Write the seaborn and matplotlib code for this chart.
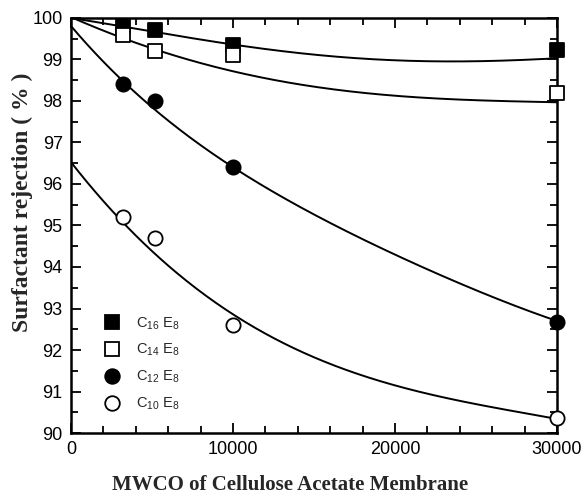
import numpy as np
import pandas as pd
import matplotlib
matplotlib.use("Agg")
import matplotlib.pyplot as plt
import seaborn as sns
from matplotlib.ticker import MultipleLocator

sns.set_theme(style="ticks")
plt.rcParams["font.family"] = ["Liberation Sans", "DejaVu Sans"]
plt.rcParams["mathtext.fontset"] = "custom"
plt.rcParams["mathtext.rm"] = "Liberation Sans"
plt.rcParams["mathtext.it"] = "Liberation Sans"

# Measured rejection for each surfactant at four membrane cut-offs
mwco = [3200, 5200, 10000, 30000]
c16e8 = [99.8, 99.7, 99.35, 99.22]
c14e8 = [99.6, 99.2, 99.12, 98.2]
c12e8 = [98.4, 98.0, 96.4, 92.68]
c10e8 = [95.2, 94.7, 92.6, 90.35]

# Trend-curve knots for each surfactant
curve_x = [0, 2500, 5000, 7500, 10000, 12500, 15000, 17500, 20000, 22500, 25000, 27500, 30000]
curve_c16 = [100.0, 99.84, 99.67, 99.51, 99.37, 99.23, 99.11, 99.03, 98.98, 98.96, 98.96, 98.98, 99.03]
curve_c14 = [100.0, 99.65, 99.29, 98.95, 98.68, 98.5, 98.36, 98.24, 98.14, 98.06, 98.0, 97.98, 97.98]
curve_c12 = [99.8, 98.75, 97.88, 97.05, 96.38, 95.82, 95.28, 94.78, 94.28, 93.85, 93.45, 93.05, 92.7]
curve_c10 = [96.5, 95.42, 94.38, 93.55, 92.8, 92.3, 91.86, 91.45, 91.14, 90.92, 90.68, 90.5, 90.35]

labels = [r"C$_{16}$ E$_8$", r"C$_{14}$ E$_8$", r"C$_{12}$ E$_8$", r"C$_{10}$ E$_8$"]
markers = ["s", "s", "o", "o"]
faces = ["black", "white", "black", "white"]


def smooth_curve(xk, yk, n=300):
    """Smooth trend line through the knots (least-squares quartic)."""
    xs = np.asarray(xk, float) / 30000.0
    coef = np.polyfit(xs, yk, 4)
    xf = np.linspace(xs.min(), xs.max(), n)
    return xf * 30000.0, np.polyval(coef, xf)


points = pd.DataFrame({
    "mwco": mwco * 4,
    "rejection": c16e8 + c14e8 + c12e8 + c10e8,
    "series": sum([[lab] * len(mwco) for lab in labels], []),
})

frames = []
for lab, yk in zip(labels, [curve_c16, curve_c14, curve_c12, curve_c10]):
    xf, yf = smooth_curve(curve_x, yk)
    frames.append(pd.DataFrame({"mwco": xf, "rejection": yf, "series": lab}))
curves = pd.concat(frames, ignore_index=True)

fig = plt.figure(figsize=(5.83, 4.98), dpi=100)
ax = fig.add_axes([0.1218, 0.1305, 0.8336, 0.8334])

for lab in labels:
    sns.lineplot(data=curves[curves.series == lab], x="mwco", y="rejection",
                 color="black", lw=1.4, ax=ax, legend=False, zorder=2)

handles = []
for lab, mk, fc in zip(labels, markers, faces):
    sub = points[points.series == lab]
    sns.scatterplot(data=sub, x="mwco", y="rejection", marker=mk, s=105,
                    facecolor=fc, edgecolor="black", linewidth=1.3,
                    ax=ax, legend=False, zorder=3, clip_on=False)
    handles.append(plt.Line2D([], [], ls="none", marker=mk, markersize=10.5,
                              markerfacecolor=fc, markeredgecolor="black",
                              markeredgewidth=1.3, label=lab))

ax.set_xlim(0, 30000)
ax.set_ylim(90, 100)
ax.xaxis.set_major_locator(MultipleLocator(10000))
ax.xaxis.set_minor_locator(MultipleLocator(2000))
ax.yaxis.set_major_locator(MultipleLocator(1))
ax.yaxis.set_minor_locator(MultipleLocator(0.5))
ax.tick_params(which="both", direction="in", top=True, right=True,
               width=1.3, colors="black", labelsize=13, pad=6)
ax.tick_params(which="major", length=7)
ax.tick_params(which="minor", length=5)
for sp in ax.spines.values():
    sp.set_linewidth(1.8)
    sp.set_color("black")

ax.set_xlabel("")
ax.set_ylabel("")
fig.text(0.497, 0.026, "MWCO of Cellulose Acetate Membrane", ha="center", va="center",
         fontsize=15, fontweight="bold", family="Liberation Serif")
fig.text(0.038, 0.593, "Surfactant rejection ( % )", ha="center", va="center",
         rotation=90, fontsize=17, fontweight="bold", family="Liberation Serif")

ax.legend(handles=handles, loc="upper left", bbox_to_anchor=(0.055, 0.298),
          frameon=False, fontsize=10.5, labelspacing=0.72, handletextpad=1.0,
          handlelength=1.2, borderaxespad=0)

fig.savefig("out.png", dpi=100)
